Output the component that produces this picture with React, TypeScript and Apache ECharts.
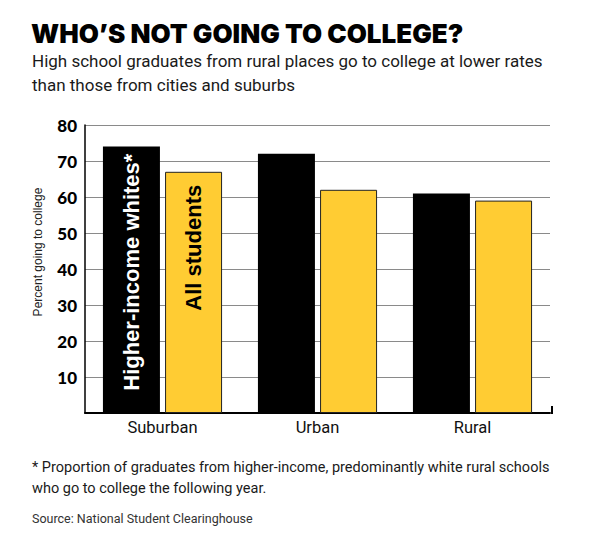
import React, { useEffect, useRef } from "react";
import * as echarts from "echarts";

const categories = ["Suburban", "Urban", "Rural"];
const higherIncomeWhites = [74, 72, 61];
const allStudents = [67, 62, 59];
const yTicks = [0, 10, 20, 30, 40, 50, 60, 70, 80];
const seriesNames = ["Higher-income whites*", "All students"];

const titleText = "WHO\u2019S NOT GOING TO COLLEGE?";
const subtitleLines = [
  "High school graduates from rural places go to college at lower rates",
  "than those from cities and suburbs",
];
const footnoteLines = [
  "* Proportion of graduates from higher-income, predominantly white rural schools",
  "who go to college the following year.",
];
const sourceText = "Source: National Student Clearinghouse";
const yAxisTitle = "Percent going to college";

export default function App() {
  const ref = useRef<HTMLDivElement>(null);
  useEffect(() => {
    if (!ref.current) return;
    const chart = echarts.init(ref.current, null, { renderer: "svg" });
    const gridLeft = 85;
    const gridRight = 50;
    const gridTop = 125;
    const gridBottom = 128;
    const subStyle = { fontFamily: "Roboto", fontWeight: 400, fontSize: 17, color: "#1a1a1a" };
    const footStyle = { fontFamily: "Roboto", fontWeight: 400, fontSize: 14.5, color: "#1a1a1a" };
    chart.setOption({
      animation: false,
      backgroundColor: "#ffffff",
      title: [
        {
          text: titleText,
          left: 31,
          top: 20,
          padding: 0,
          textStyle: { fontFamily: "Inter", fontWeight: 900, fontSize: 26, color: "#000" },
        },
        ...subtitleLines.map((t, i) => ({
          text: t,
          left: 32,
          top: 52 + i * 24,
          padding: 0,
          textStyle: subStyle,
        })),
        ...footnoteLines.map((t, i) => ({
          text: t,
          left: 32,
          top: 460 + i * 21,
          padding: 0,
          textStyle: footStyle,
        })),
        {
          text: sourceText,
          left: 32,
          top: 512,
          padding: 0,
          textStyle: { fontFamily: "Roboto", fontWeight: 400, fontSize: 12.5, color: "#333" },
        },
      ],
      graphic: [
        {
          type: "text",
          x: 38,
          y: 252,
          rotation: Math.PI / 2,
          style: {
            text: yAxisTitle,
            fontFamily: "Liberation Sans",
            fontSize: 12,
            fill: "#222",
            align: "center",
            verticalAlign: "middle",
          },
        },
        {
          type: "line",
          shape: { x1: 600 - gridRight + 2, y1: 541 - gridBottom - 7, x2: 600 - gridRight + 2, y2: 541 - gridBottom + 1 },
          style: { stroke: "#000", lineWidth: 2 },
        },
      ],
      grid: { left: gridLeft, right: gridRight, top: gridTop, bottom: gridBottom },
      xAxis: {
        type: "category",
        data: categories,
        axisLine: { show: true, lineStyle: { color: "#000", width: 2 } },
        axisTick: { show: false },
        axisLabel: {
          fontFamily: "Roboto",
          fontSize: 16.5,
          color: "#111",
          margin: 6,
        },
      },
      yAxis: {
        type: "value",
        min: yTicks[0],
        max: yTicks[yTicks.length - 1],
        interval: 10,
        axisLine: { show: true, lineStyle: { color: "#000", width: 1.5 } },
        axisTick: { show: false },
        axisLabel: {
          fontFamily: "Lato",
          fontWeight: 900,
          fontSize: 17,
          color: "#000",
          margin: 8,
          formatter: (v: number) => (v === 0 ? "" : String(v)),
        },
        splitLine: { show: true, lineStyle: { color: "#8a8a8a", width: 1 } },
      },
      series: [
        {
          name: seriesNames[0],
          type: "bar",
          barWidth: 57,
          barGap: "9%",
          itemStyle: { color: "#000" },
          data: higherIncomeWhites.map((v, i) => ({
            value: v,
            label: {
              show: i === 0,
              formatter: seriesNames[0],
              position: "insideTop",
              distance: 7,
              rotate: 90,
              align: "right",
              verticalAlign: "middle",
              fontFamily: "Liberation Sans",
              fontWeight: "bold",
              fontSize: 22,
              color: "#fff",
            },
          })),
        },
        {
          name: seriesNames[1],
          type: "bar",
          barWidth: 57,
          itemStyle: { color: "#FFCC33", borderColor: "#222", borderWidth: 1 },
          data: allStudents.map((v, i) => ({
            value: v,
            label: {
              show: i === 0,
              formatter: seriesNames[1],
              position: "insideTop",
              distance: 13,
              rotate: 90,
              align: "right",
              verticalAlign: "middle",
              fontFamily: "Liberation Sans",
              fontWeight: "bold",
              fontSize: 22,
              color: "#000",
            },
          })),
        },
      ],
    });
    return () => chart.dispose();
  }, []);
  return (
    <div
      ref={ref}
      style={{ position: "absolute", left: 0, top: 0, width: 600, height: 541 }}
    />
  );
}
